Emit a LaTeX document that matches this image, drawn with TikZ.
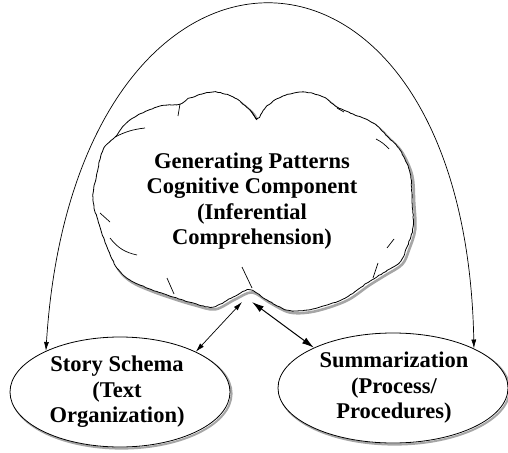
\documentclass[tikz,border=0pt]{standalone}
\usepackage{fontspec}
\setmainfont{Liberation Serif}
\usetikzlibrary{arrows.meta,shapes.geometric,shadows,decorations.pathmorphing}
\begin{document}
\begin{tikzpicture}[x=1pt,y=-1pt,
  lbl/.style={font=\bfseries\fontsize{22.5}{25.5}\selectfont, align=center},
  oval/.style={ellipse, draw, fill=white, line width=0.8pt, inner sep=0pt,
     drop shadow={opacity=1, fill=white, draw=gray!70, line width=2pt, shadow xshift=1.6pt, shadow yshift=-1.6pt}},
  thinarr/.style={line width=0.7pt, {Latex[length=9pt,width=5pt]}-{Latex[length=9pt,width=5pt]}},
  thickarr/.style={line width=1pt, {Latex[length=12pt,width=7pt]}-{Latex[length=12pt,width=7pt]}},
  cloudline/.style={line width=0.8pt, decorate, decoration={random steps, segment length=2.5pt, amplitude=0.35pt}},
  innerstroke/.style={line width=0.7pt}
]
\useasboundingbox (0,0) rectangle (508,452);
\pgfmathsetseed{7}
\def\cloudpts{(115,137) (130,120) (157,107) (180,104) (190,98) (213,92) (233,97) (250,110) (257,118) (267,106) (283,96) (303,92) (323,97) (337,107) (353,114) (373,123) (387,136) (400,150) (410,173) (412,200) (413,227) (407,247) (400,262) (383,273) (367,283) (347,297) (327,305) (307,310) (287,310) (267,300) (250,290) (233,297) (213,307) (193,303) (173,297) (150,289) (130,280) (117,268) (107,247) (100,227) (93,200) (97,173) (103,150)}
% cloud shadow
\draw[gray!70, line width=2.6pt, shift={(2.2pt,-2.4pt)}] plot[smooth cycle, tension=0.55] coordinates {\cloudpts};
% cloud
\draw[cloudline, fill=white] plot[smooth cycle, tension=0.55] coordinates {\cloudpts};
% inner strokes of the cloud
\draw[innerstroke] (180,104) -- (178,116);
\draw[innerstroke] (115,137) to[bend left=10] (145,128);
\draw[innerstroke] (250,110) -- (257,120);
\draw[innerstroke] (337,108) -- (344,112);
\draw[innerstroke] (376,139) to[bend left=10] (389,149);
\draw[innerstroke] (100,213) -- (110,222);
\draw[innerstroke] (110,238) to[bend right=20] (137,255);
\draw[innerstroke] (394,239) -- (387,248);
\draw[innerstroke] (378,263) -- (373,278);
\draw[innerstroke] (242,267) -- (252,288);
\draw[innerstroke] (167,278) -- (174,294);

\node[lbl] (cloud) at (252,201) {Generating Patterns\\Cognitive Component\\(Inferential\\Comprehension)};
\coordinate (cbl) at (242,302);
\coordinate (cbr) at (252,302);

\node[oval, minimum width=220pt, minimum height=110pt] (ss) at (120,392) {};
\node[lbl] (sst) at (117,392) {Story Schema\\(Text\\Organization)};
\node[oval, minimum width=230pt, minimum height=110pt] (su) at (393,388) {};
\node[lbl] (sut) at (394,388) {Summarization\\(Process/\\Procedures)};

\draw[thinarr] (cbl) -- (ss.28);
\draw[thickarr] (cbr) -- (su.153);
\draw[thinarr] (ss.151) .. controls (75,-110) and (465,-110) .. (su.26);
\end{tikzpicture}
\end{document}
